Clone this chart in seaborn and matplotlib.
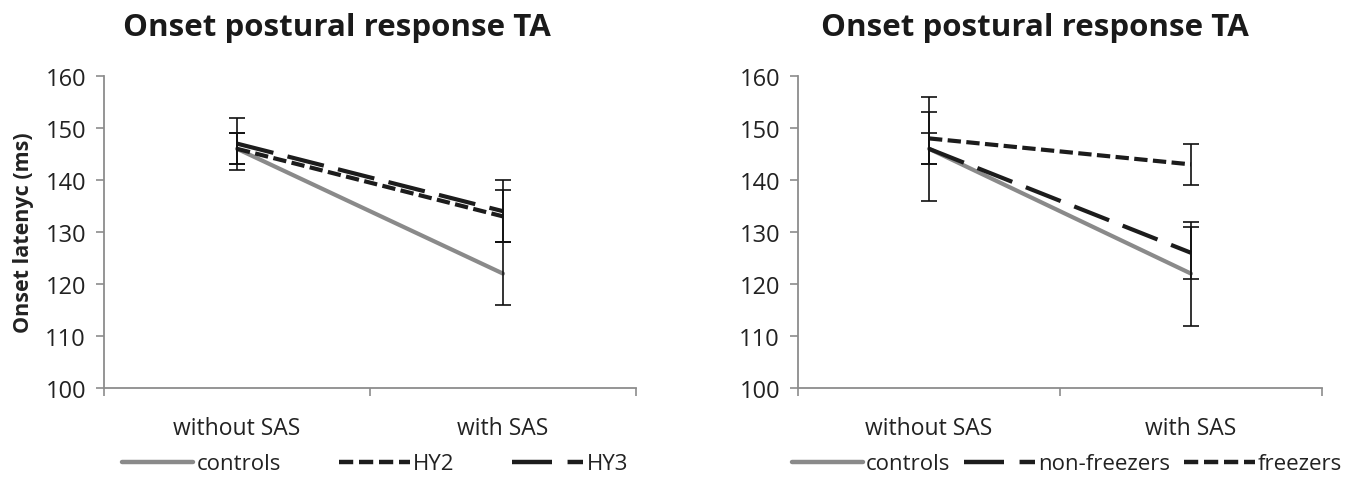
import matplotlib
matplotlib.use("Agg")
import matplotlib.pyplot as plt
import seaborn as sns
import pandas as pd
import numpy as np

conditions = ["without SAS", "with SAS"]

left_groups = ["controls", "HY2", "HY3"]
left_means = {"controls": [146, 122], "HY2": [146, 133], "HY3": [147, 134]}
left_errs = {"controls": [3, 6], "HY2": [3, 5], "HY3": [5, 6]}

right_groups = ["controls", "non-freezers", "freezers"]
right_means = {"controls": [146, 122], "non-freezers": [146, 126], "freezers": [148, 143]}
right_errs = {"controls": [3, 10], "non-freezers": [10, 5], "freezers": [5, 4]}

title = "Onset postural response TA"
ylabel = "Onset latenyc (ms)"
yticks = [100, 110, 120, 130, 140, 150, 160]

sns.set_theme(style="white")
plt.rcParams["font.family"] = ["Open Sans", "DejaVu Sans"]

GRAY = "#8a8a8a"
BLACK = "#1c1c1c"
SPINE = "#8c8c8c"

styles = {
    "controls": dict(color=GRAY, dashes=""),
    "HY2": dict(color=BLACK, dashes=(3.2, 1.3)),
    "HY3": dict(color=BLACK, dashes=(9, 3.5)),
    "non-freezers": dict(color=BLACK, dashes=(9, 3.5)),
    "freezers": dict(color=BLACK, dashes=(3.2, 1.3)),
}

W, H = 1359, 481
fig = plt.figure(figsize=(W / 100, H / 100), dpi=100)

def make_axes(x0, x1):
    y_top, y_bot = 77, 389
    return fig.add_axes([x0 / W, (H - y_bot) / H, (x1 - x0) / W, (y_bot - y_top) / H])

axL = make_axes(104, 636)
axR = make_axes(798, 1322)

def draw(ax, groups, means, errs, show_ylabel, title_x, leg_x, colsp):
    rows = []
    for g in groups:
        for i, c in enumerate(conditions):
            rows.append({"group": g, "x": i, "y": means[g][i], "err": errs[g][i]})
    df = pd.DataFrame(rows)
    sns.lineplot(data=df, x="x", y="y", hue="group", style="group",
                 hue_order=groups, style_order=groups,
                 palette={g: styles[g]["color"] for g in groups},
                 dashes={g: styles[g]["dashes"] for g in groups},
                 linewidth=3.0, ax=ax, legend=True)
    handles, labels = ax.get_legend_handles_labels()
    if ax.get_legend() is not None:
        ax.get_legend().remove()
    pairs = [(h, l) for h, l in zip(handles, labels) if l in groups]
    for h, l in pairs:
        h.set_linewidth(3.2)
    for g in groups:
        sub = df[df.group == g]
        ax.errorbar(sub["x"], sub["y"], yerr=sub["err"], fmt="none",
                    ecolor="#111111", elinewidth=1.2, capsize=6, capthick=1.2, zorder=5)
    ax.set_xlim(-0.5, 1.5)
    ax.set_ylim(100, 160)
    ax.set_yticks(yticks)
    ax.set_xticks([0, 1])
    ax.set_xticklabels(conditions)
    ax.set_xticks([-0.5, 0.5, 1.5], minor=True)
    ax.tick_params(axis="x", which="major", length=0, pad=20, labelsize=16.5, colors="#222222")
    ax.tick_params(axis="x", which="minor", length=6, width=1.2, color=SPINE, direction="out", bottom=True)
    ax.tick_params(axis="y", length=6, width=1.2, color=SPINE, direction="out", left=True,
                   labelsize=17, colors="#222222", pad=7)
    for s in ["top", "right"]:
        ax.spines[s].set_visible(False)
    for s in ["left", "bottom"]:
        ax.spines[s].set_color(SPINE)
        ax.spines[s].set_linewidth(1.3)
    ax.set_xlabel("")
    if show_ylabel:
        ax.set_ylabel(ylabel, fontsize=15.5, fontweight="bold", color="#222222", labelpad=8)
    else:
        ax.set_ylabel("")
    fig.text(title_x / W, 1 - 28 / H, title, fontsize=22.5, fontweight="bold",
             color="#1a1a1a", ha="center", va="center")
    fig.legend([p[0] for p in pairs], [p[1] for p in pairs], loc="center",
               bbox_to_anchor=(leg_x / W, 1 - 465 / H), ncol=3,
               frameon=False, fontsize=16, handlelength=3.2, handletextpad=0.15,
               columnspacing=colsp, labelcolor="#222222", borderaxespad=0, borderpad=0)

draw(axL, left_groups, left_means, left_errs, True, 337, 375, 2.6)
draw(axR, right_groups, right_means, right_errs, False, 1035, 1067, 0.6)

fig.savefig("out.png", dpi=100, facecolor="white")
